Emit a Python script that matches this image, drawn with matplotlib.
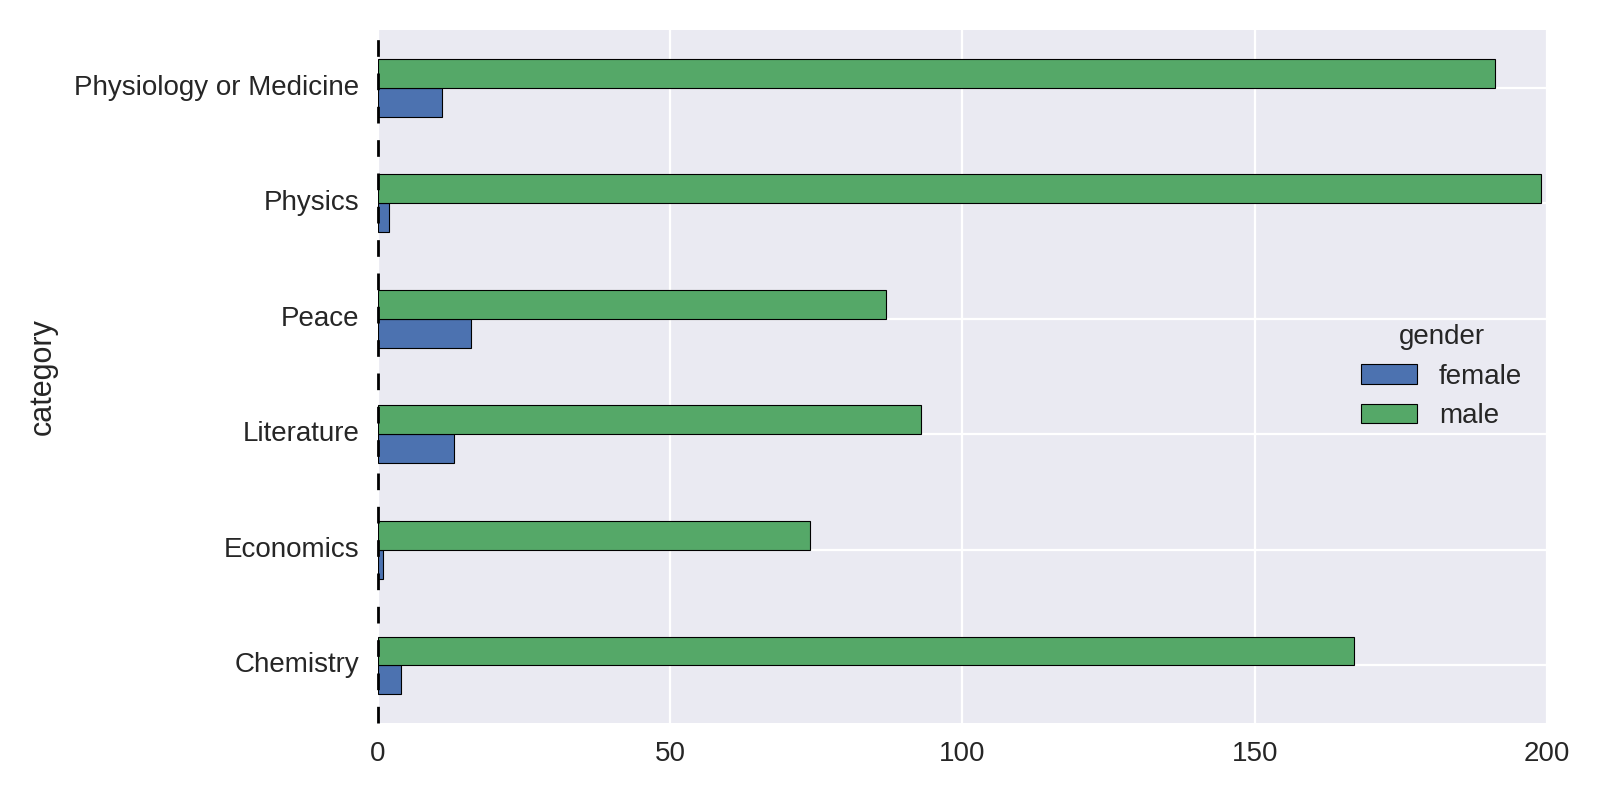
import matplotlib
matplotlib.use("Agg")
import matplotlib.pyplot as plt
import matplotlib.transforms as mtransforms
import numpy as np

categories = ["Chemistry", "Economics", "Literature", "Peace", "Physics", "Physiology or Medicine"]
female = [4, 1, 13, 16, 2, 11]
male = [167, 74, 93, 87, 199, 191]
series_names = ["female", "male"]
colors = ["#4C72B0", "#55A868"]
xticks = [0, 50, 100, 150, 200]

plt.rcParams.update({
    "font.family": ["Liberation Sans", "DejaVu Sans"],
    "axes.facecolor": "#EAEAF2",
    "axes.edgecolor": "white",
    "axes.linewidth": 0,
    "grid.color": "white",
    "grid.linewidth": 1.6,
    "text.color": "#262626",
    "axes.labelcolor": "#262626",
    "xtick.color": "#262626",
    "ytick.color": "#262626",
    "xtick.major.size": 0,
    "ytick.major.size": 0,
})

fig = plt.figure(figsize=(16, 8), dpi=100)
ax = fig.add_axes([0.236, 0.096, 0.731, 0.8665])
ax.set_axisbelow(True)
ax.grid(True)

y = np.arange(len(categories))
h = 0.25
for i, (vals, name) in enumerate(zip([female, male], series_names)):
    ax.barh(y - h / 2 + i * h, vals, height=h, color=colors[i], edgecolor="black",
            linewidth=0.8, label=name)

ax.axvline(0, color="black", linestyle=(0, (6, 6)), linewidth=2, clip_on=False, zorder=5)
ax.set_ylim(-0.5, len(categories) - 0.5)
ax.set_xlim(0, 200)
ax.set_xticks(xticks)
ax.set_yticks(y)
ax.set_yticklabels(categories)
ax.tick_params(axis="y", labelsize=20, pad=13)
ax.tick_params(axis="x", labelsize=20, pad=13)
offset = mtransforms.ScaledTranslation(0, 3 / 100, fig.dpi_scale_trans)
for lab in ax.get_yticklabels():
    lab.set_transform(lab.get_transform() + offset)
ax.set_ylabel("category", fontsize=22, labelpad=12)
for s in ax.spines.values():
    s.set_visible(False)
leg = ax.legend(title="gender", loc="center right", frameon=False, fontsize=20,
                title_fontsize=20)
fig.savefig("out.png", dpi=100, facecolor="white")
